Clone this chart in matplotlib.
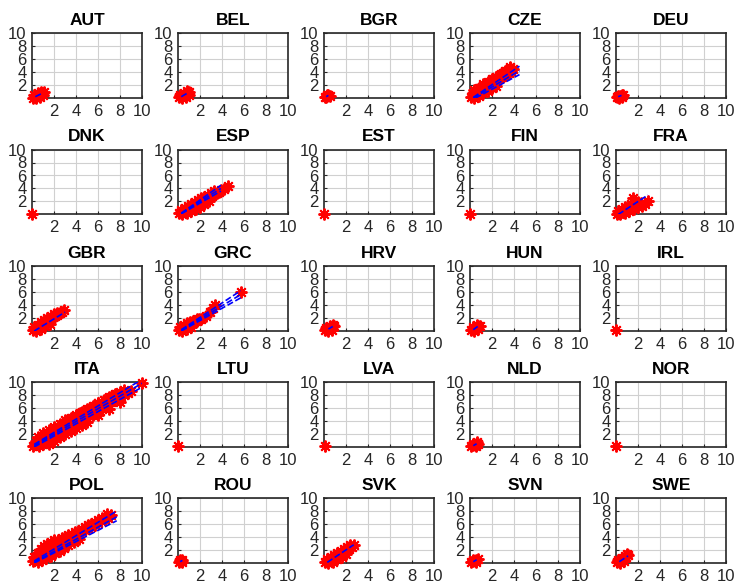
import matplotlib
matplotlib.use('Agg')
import matplotlib.pyplot as plt

plt.rcParams['font.family'] = ['Liberation Sans', 'DejaVu Sans']

countries = ['AUT', 'BEL', 'BGR', 'CZE', 'DEU',
             'DNK', 'ESP', 'EST', 'FIN', 'FRA',
             'GBR', 'GRC', 'HRV', 'HUN', 'IRL',
             'ITA', 'LTU', 'LVA', 'NLD', 'NOR',
             'POL', 'ROU', 'SVK', 'SVN', 'SWE']
ticks = [2, 4, 6, 8, 10]

# scatter clouds
aut_x = [0.1, 0.3, 0.5, 0.7, 0.9, 1.1, 0.2, 0.5, 0.8, 0.4, 0.7, 1.0]
aut_y = [0.0, 0.2, 0.4, 0.6, 0.8, 1.0, 0.4, 0.7, 1.0, 0.0, 0.2, 0.5]
bel_x = [0.1, 0.3, 0.5, 0.7, 0.9, 1.0, 0.2, 0.5, 0.8, 0.4, 0.7, 1.0]
bel_y = [0.1, 0.3, 0.5, 0.6, 0.8, 1.0, 0.4, 0.8, 1.1, 0.0, 0.2, 0.4]
bgr_x = [0.1, 0.2, 0.3, 0.4, 0.5, 0.3]
bgr_y = [0.2, 0.1, 0.3, 0.4, 0.3, 0.5]
cze_x = [0.1, 0.3, 0.5, 0.7, 0.9, 1.1, 1.3, 1.5, 1.7, 1.9, 2.1, 2.3, 2.5, 2.7, 2.9, 3.1, 3.3, 3.5, 3.7, 3.9,
         0.3, 0.6, 0.9, 1.2, 1.5, 1.8, 2.1, 2.4, 2.7, 3.0, 3.3, 3.6,
         0.4, 0.8, 1.2, 1.6, 2.0, 2.4,
         0.4, 0.8, 1.2, 1.6, 2.0, 2.4, 2.8, 3.2, 3.6]
cze_y = [0.2, 0.4, 0.7, 0.9, 1.1, 1.4, 1.6, 1.8, 2.0, 2.2, 2.5, 2.7, 2.9, 3.1, 3.3, 3.5, 3.7, 3.9, 4.1, 4.4,
         0.8, 1.2, 1.5, 1.9, 2.2, 2.5, 2.9, 3.2, 3.5, 3.8, 4.1, 4.6,
         0.0, 0.3, 0.7, 1.1, 1.5, 1.9,
         1.2, 1.6, 2.1, 2.5, 2.9, 3.3, 3.7, 4.1, 4.8]
deu_x = [0.1, 0.2, 0.4, 0.5, 0.6, 0.3, 0.5]
deu_y = [0.1, 0.3, 0.3, 0.5, 0.4, 0.0, 0.1]
dnk_x = [0.0]
dnk_y = [0.1]
esp_x = [0.1, 0.3, 0.5, 0.7, 0.9, 1.1, 1.3, 1.5, 1.7, 1.9, 2.1, 2.3, 2.5, 2.7, 2.9, 3.1, 3.3, 3.5, 3.7, 3.9, 4.2, 4.5,
         0.3, 0.6, 0.9, 1.2, 1.5, 1.8, 2.1, 2.4, 2.7, 3.0, 3.3,
         0.4, 0.8, 1.2, 1.6, 2.0, 2.4, 2.8]
esp_y = [0.2, 0.4, 0.6, 0.8, 1.0, 1.1, 1.3, 1.5, 1.7, 1.8, 2.0, 2.2, 2.4, 2.6, 2.7, 2.9, 3.1, 3.3, 3.5, 3.7, 3.9, 4.4,
         0.7, 1.0, 1.3, 1.6, 1.9, 2.2, 2.5, 2.7, 3.0, 3.3, 3.6,
         0.0, 0.2, 0.5, 0.9, 1.2, 1.6, 2.0]
est_x = [0.0]
est_y = [0.1]
fin_x = [0.0]
fin_y = [0.1]
fra_x = [0.1, 0.3, 0.5, 0.7, 0.9, 1.1, 1.3, 1.5, 1.7, 1.9, 2.1, 2.3,
         0.2, 0.5, 0.8, 1.1, 1.4, 1.7, 2.0,
         0.4, 0.8, 1.2, 1.6, 2.0, 2.4, 1.5, 2.9, 2.6]
fra_y = [0.1, 0.3, 0.4, 0.6, 0.8, 0.9, 1.1, 1.2, 1.4, 1.5, 1.6, 1.8,
         0.5, 0.8, 1.1, 1.3, 1.6, 1.8, 1.9,
         0.0, 0.3, 0.5, 0.8, 1.1, 1.3, 2.6, 2.0, 1.6]
gbr_x = [0.1, 0.3, 0.5, 0.7, 0.9, 1.1, 1.3, 1.5, 1.7, 1.9, 2.1, 2.3, 2.5, 2.7, 2.9,
         0.2, 0.5, 0.8, 1.1, 1.4, 1.7, 2.0, 2.3,
         0.4, 0.8, 1.2, 1.6]
gbr_y = [0.2, 0.4, 0.7, 0.9, 1.1, 1.3, 1.5, 1.7, 1.9, 2.1, 2.3, 2.5, 2.7, 2.9, 3.2,
         0.6, 1.0, 1.4, 1.7, 2.0, 2.3, 2.6, 2.8,
         0.0, 0.3, 0.7, 1.1]
grc_x = [0.1, 0.3, 0.5, 0.7, 0.9, 1.1, 1.3, 1.5, 1.7, 1.9, 2.1,
         0.2, 0.5, 0.8, 1.1, 1.4, 1.7,
         0.4, 0.8, 1.2, 2.5, 2.9, 3.2, 3.4, 5.7]
grc_y = [0.2, 0.4, 0.6, 0.8, 1.0, 1.2, 1.3, 1.5, 1.6, 1.8, 1.9,
         0.6, 0.9, 1.2, 1.4, 1.6, 1.9,
         0.0, 0.3, 0.6, 2.3, 2.9, 3.6, 4.0, 6.0]
hrv_x = [0.1, 0.3, 0.5, 0.7, 0.9, 0.2, 0.5, 0.8, 0.4, 0.7]
hrv_y = [0.1, 0.3, 0.4, 0.6, 0.8, 0.4, 0.7, 0.9, 0.0, 0.2]
hun_x = [0.1, 0.3, 0.5, 0.7, 0.9, 0.3, 0.6, 0.4, 0.7]
hun_y = [0.1, 0.3, 0.5, 0.7, 0.8, 0.6, 0.9, 0.0, 0.3]
irl_x = [0.0]
irl_y = [0.1]
ita_x = [0.1, 0.3, 0.5, 0.7, 0.9, 1.1, 1.3, 1.5, 1.7, 1.9, 2.1, 2.3, 2.5, 2.7, 2.9, 3.1, 3.3, 3.5, 3.7, 3.9,
         4.1, 4.3, 4.5, 4.7, 4.9, 5.1, 5.4, 5.7, 6.0, 6.3, 6.6, 6.9, 7.2, 7.5, 7.8, 8.1, 8.4, 8.7, 9.0,
         0.4, 0.8, 1.2, 1.6, 2.0, 2.4, 2.8, 3.2, 3.6, 4.0, 4.4, 4.8, 5.2, 5.6, 6.0, 6.4, 6.8, 7.2, 7.6, 8.0, 8.4,
         0.6, 1.0, 1.4, 1.8, 2.2, 2.6, 3.0, 3.4, 3.8, 4.2, 4.6, 5.0, 5.5, 6.2, 7.0, 10.0,
         0.5, 1.0, 1.5, 2.0, 2.5, 3.0, 3.5, 4.0, 4.5, 5.0, 5.5, 6.0, 6.5, 7.0, 7.5,
         1.5, 2.0, 2.5, 3.0, 3.5, 4.0, 4.5, 5.0, 6.0, 7.0, 8.0]
ita_y = [0.2, 0.4, 0.6, 0.8, 1.0, 1.2, 1.4, 1.6, 1.8, 2.0, 2.2, 2.4, 2.6, 2.8, 3.0, 3.1, 3.3, 3.5, 3.7, 3.8,
         4.0, 4.2, 4.4, 4.6, 4.7, 4.9, 5.2, 5.5, 5.8, 6.0, 6.3, 6.6, 6.9, 7.2, 7.4, 7.7, 8.0, 8.3, 8.6,
         0.9, 1.4, 1.9, 2.3, 2.8, 3.2, 3.6, 4.0, 4.4, 4.8, 5.2, 5.6, 5.9, 6.3, 6.7, 7.0, 7.4, 7.7, 8.1, 8.4, 8.8,
         0.1, 0.4, 0.8, 1.2, 1.6, 2.0, 2.4, 2.8, 3.2, 3.6, 4.0, 4.4, 4.9, 5.6, 6.4, 9.8,
         1.5, 2.1, 2.6, 3.1, 3.6, 4.1, 4.5, 5.0, 5.4, 5.9, 6.3, 6.8, 7.2, 7.7, 8.2,
         0.5, 1.0, 1.5, 2.0, 2.5, 3.0, 3.4, 3.9, 4.9, 5.9, 7.0]
ltu_x = [0.0]
ltu_y = [0.1]
lva_x = [0.1]
lva_y = [0.1]
nld_x = [0.1, 0.3, 0.5, 0.7, 0.3, 0.6, 0.5]
nld_y = [0.1, 0.3, 0.4, 0.5, 0.5, 0.7, 0.1]
nor_x = [0.0]
nor_y = [0.1]
pol_x = [0.1, 0.3, 0.5, 0.7, 0.9, 1.1, 1.3, 1.5, 1.7, 1.9, 2.1, 2.4, 2.7, 3.0, 3.3, 3.6, 3.9, 4.2, 4.5, 4.8,
         5.1, 5.4, 5.7, 6.0, 6.3, 6.6, 6.9, 7.2,
         0.3, 0.6, 0.9, 1.2, 1.5, 1.8, 2.1, 2.4, 2.7, 3.0, 3.3, 3.6, 3.9, 4.2, 4.5, 4.8, 5.1, 5.4, 5.7, 6.0,
         6.4, 6.8,
         0.5, 0.9, 1.3, 1.7, 2.1, 2.5, 2.9, 3.3, 3.8, 4.3,
         0.2, 0.5, 0.8, 1.1, 1.4, 1.7, 2.0]
pol_y = [0.3, 0.6, 0.9, 1.2, 1.5, 1.8, 2.0, 2.2, 2.4, 2.6, 2.8, 3.1, 3.4, 3.6, 3.9, 4.1, 4.4, 4.6, 4.9, 5.1,
         5.4, 5.6, 5.9, 6.1, 6.4, 6.7, 7.0, 7.4,
         0.9, 1.4, 1.8, 2.2, 2.6, 2.9, 3.2, 3.5, 3.8, 4.0, 4.3, 4.5, 4.8, 5.0, 5.3, 5.5, 5.8, 6.0, 6.3, 6.6,
         7.0, 7.5,
         0.1, 0.4, 0.8, 1.1, 1.5, 1.9, 2.3, 2.7, 3.2, 3.7,
         1.0, 1.6, 2.1, 2.6, 3.0, 3.3, 3.5]
rou_x = [0.1, 0.3, 0.4, 0.2, 0.4]
rou_y = [0.2, 0.3, 0.5, 0.5, 0.1]
svk_x = [0.1, 0.3, 0.5, 0.7, 0.9, 1.1, 1.3, 1.5, 1.7, 1.9, 2.1, 2.3, 2.5, 2.7,
         0.3, 0.6, 0.9, 1.2, 1.5, 1.8, 2.1, 2.4,
         0.4, 0.8, 1.2, 1.6, 2.0]
svk_y = [0.1, 0.3, 0.5, 0.7, 0.9, 1.1, 1.3, 1.4, 1.6, 1.8, 2.0, 2.2, 2.4, 2.7,
         0.6, 0.9, 1.2, 1.5, 1.8, 2.1, 2.4, 2.8,
         0.0, 0.2, 0.6, 1.0, 1.4]
svn_x = [0.1, 0.3, 0.5, 0.7, 0.3, 0.5]
svn_y = [0.1, 0.3, 0.4, 0.6, 0.5, 0.1]
swe_x = [0.1, 0.3, 0.5, 0.7, 0.9, 1.1, 0.2, 0.5, 0.8, 1.0, 0.4, 0.7]
swe_y = [0.1, 0.3, 0.5, 0.7, 0.9, 1.2, 0.4, 0.8, 1.1, 1.4, 0.0, 0.3]

# fitted lines, each [x0, x1, y0, y1]
aut_fit = [[0.3, 0.9, 0.2, 0.7]]
bel_fit = [[0.3, 0.9, 0.2, 0.8]]
bgr_fit = [[0.2, 0.4, 0.2, 0.4]]
cze_fit = [[0.3, 4.5, 0.1, 4.9], [0.3, 4.5, 0.0, 4.2], [0.5, 4.5, 0.0, 3.6]]
deu_fit = [[0.2, 0.5, 0.2, 0.4]]
esp_fit = [[0.3, 3.9, 0.2, 4.5], [0.3, 3.9, 0.2, 4.0], [0.3, 3.9, 0.1, 3.6]]
fra_fit = [[0.2, 2.9, 0.0, 3.0]]
gbr_fit = [[0.2, 3.0, 0.0, 2.9]]
grc_fit = [[0.3, 5.7, 0.2, 6.2], [0.3, 5.7, 0.1, 5.6], [0.3, 5.7, 0.0, 5.1]]
hrv_fit = [[0.4, 0.8, 0.3, 0.7]]
hun_fit = [[0.3, 0.7, 0.2, 0.7]]
ita_fit = [[0.2, 10.0, 0.4, 10.4], [0.2, 10.0, 0.2, 9.8], [0.2, 10.0, 0.0, 9.2]]
nld_fit = [[0.3, 0.6, 0.2, 0.5]]
pol_fit = [[0.2, 7.7, 0.3, 8.0], [0.2, 7.7, 0.1, 7.1], [0.2, 7.7, 0.0, 6.5]]
rou_fit = [[0.2, 0.4, 0.2, 0.4]]
svk_fit = [[0.3, 2.7, 0.1, 2.8]]
svn_fit = [[0.3, 0.6, 0.2, 0.5]]
swe_fit = [[0.3, 1.1, 0.2, 1.1]]

points = {
    'AUT': (aut_x, aut_y), 'BEL': (bel_x, bel_y), 'BGR': (bgr_x, bgr_y), 'CZE': (cze_x, cze_y),
    'DEU': (deu_x, deu_y), 'DNK': (dnk_x, dnk_y), 'ESP': (esp_x, esp_y), 'EST': (est_x, est_y),
    'FIN': (fin_x, fin_y), 'FRA': (fra_x, fra_y), 'GBR': (gbr_x, gbr_y), 'GRC': (grc_x, grc_y),
    'HRV': (hrv_x, hrv_y), 'HUN': (hun_x, hun_y), 'IRL': (irl_x, irl_y), 'ITA': (ita_x, ita_y),
    'LTU': (ltu_x, ltu_y), 'LVA': (lva_x, lva_y), 'NLD': (nld_x, nld_y), 'NOR': (nor_x, nor_y),
    'POL': (pol_x, pol_y), 'ROU': (rou_x, rou_y), 'SVK': (svk_x, svk_y), 'SVN': (svn_x, svn_y),
    'SWE': (swe_x, swe_y),
}
fits = {
    'AUT': aut_fit, 'BEL': bel_fit, 'BGR': bgr_fit, 'CZE': cze_fit, 'DEU': deu_fit,
    'ESP': esp_fit, 'FRA': fra_fit, 'GBR': gbr_fit, 'GRC': grc_fit, 'HRV': hrv_fit,
    'HUN': hun_fit, 'ITA': ita_fit, 'NLD': nld_fit, 'POL': pol_fit, 'ROU': rou_fit,
    'SVK': svk_fit, 'SVN': svn_fit, 'SWE': swe_fit,
}

W, H = 736, 586
fig = plt.figure(figsize=(W / 100, H / 100), dpi=100)

col_left = [32, 178, 324, 470, 616]
row_top = [33, 149.5, 266, 382, 498]
aw, ah = 110, 65

for i, c in enumerate(countries):
    r, k = divmod(i, 5)
    ax = fig.add_axes([col_left[k] / W, 1 - (row_top[r] + ah) / H, aw / W, ah / H])
    x, y = points[c]
    ax.plot(x, y, linestyle='none', marker=(8, 2, 0), markersize=8.5,
            markeredgewidth=1.4, color='red', clip_on=False, zorder=3)
    for seg in fits.get(c, []):
        ax.plot(seg[:2], seg[2:], '--', color='blue', linewidth=1.2, zorder=4)
    ax.set_xlim(0, 10)
    ax.set_ylim(0, 10)
    ax.set_xticks(ticks)
    ax.set_yticks(ticks)
    ax.grid(True, color='#d0d0d0', linewidth=0.8)
    ax.set_axisbelow(True)
    ax.tick_params(direction='in', length=2.5, labelsize=12, pad=4, colors='#262626')
    for s in ax.spines.values():
        s.set_linewidth(1.2)
        s.set_color('#262626')
    ax.set_title(c, fontsize=12.5, fontweight='bold', pad=6)

fig.savefig('out.png', dpi=100)
